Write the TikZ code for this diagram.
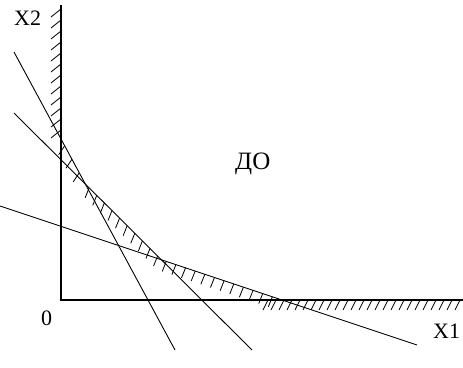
\documentclass[tikz,border=0pt]{standalone}
\usepackage{fontspec}
\setmainfont{Liberation Serif}
\usetikzlibrary{calc}
\tikzset{
    axis/.style={line width=1.3pt},
    limit/.style={line width=0.9pt},
    hatch/.style={line width=0.8pt},
    lbl/.style={inner sep=0pt, font=\fontsize{22}{22}\selectfont},
    region/.style={inner sep=0pt, font=\fontsize{25}{25}\selectfont}
}
\begin{document}
\begin{tikzpicture}[x=1pt, y=-1pt]
    \useasboundingbox (0,0) rectangle (463,367);
    % axes
    \coordinate (o) at (61,300);
    \coordinate (ytop) at (61,5);
    \coordinate (xend) at (463,300);
    % constraint lines
    \coordinate (a1) at (14,52);  \coordinate (a2) at (175,350);
    \coordinate (b1) at (14,113); \coordinate (b2) at (252,350);
    \coordinate (c1) at (0,206);  \coordinate (c2) at (417,345);
    % corners of the region
    \coordinate (v1) at (intersection of a1--a2 and o--ytop);
    \coordinate (v2) at (intersection of a1--a2 and b1--b2);
    \coordinate (v3) at (intersection of b1--b2 and c1--c2);
    \coordinate (v4) at (intersection of c1--c2 and o--xend);

    \draw[axis] (ytop) -- (o) -- (xend);
    \draw[limit] (a1) -- (a2);
    \draw[limit] (b1) -- (b2);
    \draw[limit] (c1) -- (c2);

    % hatching
    \foreach \y in {9,20,...,135}
        \draw[hatch] (61,\y) -- ++(-10,8);
    \foreach \f in {0.15,0.45,0.75}
        \draw[hatch] ($(v1)!\f!(v2)$) -- ++(-6,9);
    \foreach \f in {0.05,0.15,...,0.95}
        \draw[hatch] ($(v2)!\f!(v3)$) -- ++(-4,10);
    \foreach \f in {0.04,0.12,...,0.96}
        \draw[hatch] ($(v3)!\f!(v4)$) -- ++(-4,10);
    \foreach \x in {268,276,...,460}
        \draw[hatch] (\x,300) -- ++(-5,10);

    % labels
    \node[lbl, anchor=base west] (x2) at (14,25) {X2};
    \node[lbl, anchor=base west] (x1) at (433,338) {X1};
    \node[lbl, anchor=base west] (zero) at (41,325) {0};
    \node[region, anchor=base west] (do) at (235,169) {ДО};
\end{tikzpicture}
\end{document}
